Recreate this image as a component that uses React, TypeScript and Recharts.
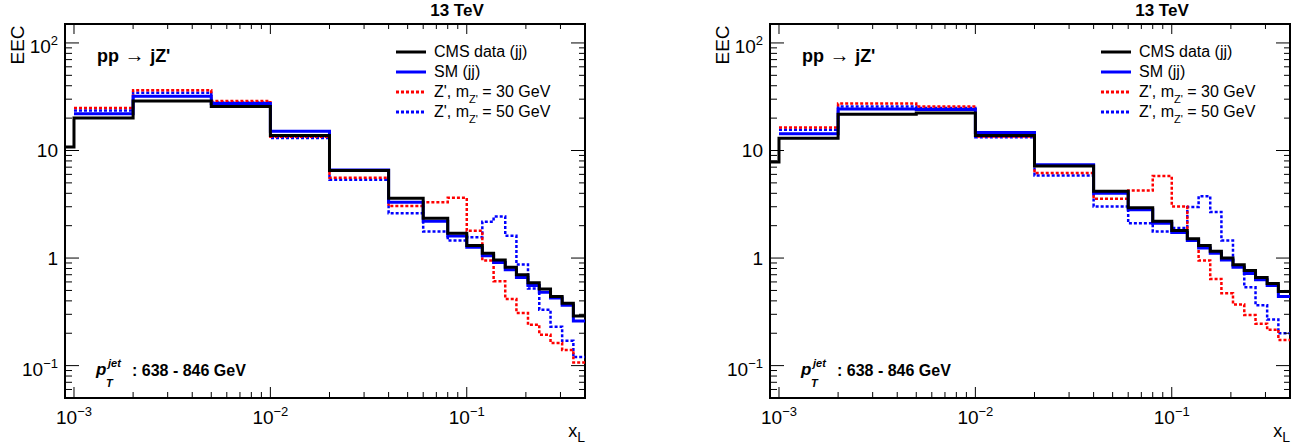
import React from "react";
import { LineChart, Line, XAxis, YAxis, Legend, ReferenceArea } from "recharts";

// bin edges in x_L (the data histogram also has an underflow bin starting at the frame edge)
const binEdges = [
  0.001, 0.002, 0.005, 0.01, 0.02, 0.04, 0.06, 0.08, 0.1, 0.12, 0.137, 0.157,
  0.179, 0.205, 0.234, 0.267, 0.306, 0.349, 0.4,
];
const underflowEdge = 0.0009;

// left panel
const leftDataUnderflow = 10.8;
const leftData = [20, 28.8, 25.7, 13.8, 6.5, 3.6, 2.35, 1.7, 1.31, 1.11, 0.96, 0.82, 0.7, 0.59, 0.516, 0.44, 0.38, 0.29];
const leftSM = [22, 31.9, 27.3, 15.1, 6.6, 3.31, 2.2, 1.6, 1.26, 1.05, 0.91, 0.78, 0.66, 0.555, 0.48, 0.426, 0.364, 0.26];
const leftZ30 = [24.8, 36.3, 28.8, 13.4, 5.58, 3.04, 3.31, 3.64, 1.79, 0.95, 0.61, 0.417, 0.309, 0.24, 0.194, 0.162, 0.14, 0.107];
const leftZ50 = [23.6, 34.5, 28, 13.1, 5.35, 2.61, 1.77, 1.46, 1.56, 2.18, 2.43, 1.61, 0.87, 0.52, 0.33, 0.23, 0.17, 0.12];

// right panel
const rightDataUnderflow = 7.8;
const rightData = [13.0, 21.7, 22.3, 13.8, 7.16, 4.19, 2.93, 2.2, 1.8, 1.51, 1.31, 1.16, 1.0, 0.865, 0.765, 0.66, 0.58, 0.49];
const rightSM = [14.3, 24.3, 24, 14.7, 7.38, 4.0, 2.81, 2.11, 1.73, 1.46, 1.24, 1.11, 0.96, 0.82, 0.72, 0.63, 0.555, 0.44];
const rightZ30 = [16.4, 27.3, 25.7, 13.5, 6.17, 3.56, 4.25, 5.78, 3.02, 1.45, 0.95, 0.64, 0.47, 0.37, 0.296, 0.245, 0.215, 0.173];
const rightZ50 = [15.6, 25.7, 24.9, 13.3, 5.87, 3.02, 2.11, 1.77, 1.9, 2.98, 3.76, 2.68, 1.46, 0.85, 0.535, 0.364, 0.268, 0.2];

// axis ticks
const xTicks = [
  0.001, 0.002, 0.003, 0.004, 0.005, 0.006, 0.007, 0.008, 0.009,
  0.01, 0.02, 0.03, 0.04, 0.05, 0.06, 0.07, 0.08, 0.09,
  0.1, 0.2, 0.3,
];
const yTicks = [
  0.06, 0.07, 0.08, 0.09,
  0.1, 0.2, 0.3, 0.4, 0.5, 0.6, 0.7, 0.8, 0.9,
  1, 2, 3, 4, 5, 6, 7, 8, 9,
  10, 20, 30, 40, 50, 60, 70, 80, 90,
  100,
];

const SERIES = [
  { key: "data", name: "CMS data (jj)", color: "#000000", width: 3, dash: undefined as string | undefined },
  { key: "sm", name: "SM (jj)", color: "#0000ff", width: 3, dash: undefined as string | undefined },
  { key: "z30", name: "Z', m_{Z'} = 30 GeV", color: "#ff0000", width: 2.5, dash: "3 2" },
  { key: "z50", name: "Z', m_{Z'} = 50 GeV", color: "#0000ff", width: 2.5, dash: "3 2" },
];

const FONT = "'Liberation Sans', Arial, Helvetica, sans-serif";
const CHART_W = 640;
const CHART_H = 447;
const PLOT_W = 520;
const PLOT_H = 374;

function buildRows(under: number, data: number[], sm: number[], z30: number[], z50: number[]) {
  const rows: any[] = [{ x: underflowEdge, data: under, sm: null, z30: null, z50: null }];
  binEdges.forEach((e, i) => {
    const j = Math.min(i, data.length - 1);
    rows.push({ x: e, data: data[j], sm: sm[j], z30: z30[j], z50: z50[j] });
  });
  return rows;
}

const isMajor = (v: number) => Math.abs(Math.log10(v) - Math.round(Math.log10(v))) < 1e-6;

const XTick = (props: any) => {
  const { x, y, payload } = props;
  const v = payload.value;
  const major = isMajor(v);
  const exp = Math.round(Math.log10(v));
  return (
    <g>
      <line x1={x} x2={x} y1={y} y2={y - (major ? 11 : 6)} stroke="#000" strokeWidth={1} />
      <line x1={x} x2={x} y1={y - PLOT_H} y2={y - PLOT_H + (major ? 10 : 5)} stroke="#000" strokeWidth={1} />
      {major && (
        <text x={x} y={y + 26} textAnchor="middle" fontSize={19} fill="#000" fontFamily={FONT}>
          10
          <tspan dy={-8} fontSize={13}>
            {"\u2212" + Math.abs(exp)}
          </tspan>
        </text>
      )}
    </g>
  );
};

const YTick = (props: any) => {
  const { x, y, payload } = props;
  const v = payload.value;
  const major = isMajor(v);
  const exp = Math.round(Math.log10(v));
  let label: React.ReactNode = null;
  if (major) {
    if (exp === 0 || exp === 1) {
      label = (
        <text x={x - 7} y={y + 6.5} textAnchor="end" fontSize={19} fill="#000" fontFamily={FONT}>
          {exp === 0 ? "1" : "10"}
        </text>
      );
    } else {
      label = (
        <text x={x - 7} y={y + 10} textAnchor="end" fontSize={19} fill="#000" fontFamily={FONT}>
          10
          <tspan dy={-8} fontSize={13}>
            {exp < 0 ? "\u2212" + Math.abs(exp) : String(exp)}
          </tspan>
        </text>
      );
    }
  }
  return (
    <g>
      <line x1={x} x2={x + (major ? 14 : 7)} y1={y} y2={y} stroke="#000" strokeWidth={1} />
      <line x1={x + PLOT_W} x2={x + PLOT_W - (major ? 14 : 6)} y1={y} y2={y} stroke="#000" strokeWidth={1} />
      {label}
    </g>
  );
};

const renderName = (name: string) => {
  const parts = name.split(/_\{(.*?)\}/);
  return parts.map((p, i) =>
    i % 2 === 1 ? (
      <span key={i} style={{ fontSize: 11, position: "relative", top: 6 }}>
        {p}
      </span>
    ) : (
      <span key={i}>{p}</span>
    )
  );
};

const renderLegend = (props: any) => {
  const order = SERIES.map((s) => s.key);
  const items = [...(props.payload || [])].sort(
    (a: any, b: any) => order.indexOf(a.dataKey) - order.indexOf(b.dataKey)
  );
  return (
    <div style={{ fontFamily: FONT, fontSize: 16, color: "#000" }}>
      {items.map((it: any) => {
        const s = SERIES.find((q) => q.key === it.dataKey)!;
        return (
          <div key={s.key} style={{ height: 20, display: "flex", alignItems: "center", whiteSpace: "nowrap" }}>
            <svg width={30} height={4} style={{ display: "block" }}>
              <line x1={0} x2={30} y1={2} y2={2} stroke={s.color} strokeWidth={3} strokeDasharray={s.dash} />
            </svg>
            <span style={{ marginLeft: 8 }}>{renderName(it.value)}</span>
          </div>
        );
      })}
    </div>
  );
};

const Panel = ({ rows, left }: { rows: any[]; left: number }) => {
  const drawOrder = [...SERIES].reverse();
  return (
    <div style={{ position: "absolute", left, top: 0, width: CHART_W, height: CHART_H }}>
      <LineChart width={CHART_W} height={CHART_H} data={rows} margin={{ top: 24, right: 55, bottom: 0, left: 0 }}>
        <XAxis
          dataKey="x"
          type="number"
          scale="log"
          domain={[underflowEdge, 0.4]}
          allowDataOverflow
          ticks={xTicks}
          interval={0}
          tick={XTick}
          tickLine={false}
          axisLine={false}
          tickSize={0}
          tickMargin={0}
          height={49}
        />
        <YAxis
          type="number"
          scale="log"
          domain={[0.05, 150]}
          allowDataOverflow
          ticks={yTicks}
          interval={0}
          tick={YTick}
          tickLine={false}
          axisLine={false}
          tickSize={0}
          tickMargin={0}
          width={65}
        />
        <ReferenceArea x1={underflowEdge} x2={0.4} y1={0.05} y2={150} fill="none" fillOpacity={0} stroke="#000" strokeWidth={2} />
        {drawOrder.map((s) => (
          <Line
            key={s.key}
            dataKey={s.key}
            name={s.name}
            type="stepAfter"
            stroke={s.color}
            strokeWidth={s.width}
            strokeDasharray={s.dash}
            dot={false}
            activeDot={false}
            connectNulls={false}
            isAnimationActive={false}
          />
        ))}
        <Legend
          layout="vertical"
          align="center"
          verticalAlign="middle"
          content={renderLegend}
          wrapperStyle={{ left: 396, top: 42, width: 220, height: 80 }}
        />
      </LineChart>
      <svg
        width={CHART_W}
        height={CHART_H}
        style={{ position: "absolute", left: 0, top: 0, pointerEvents: "none" }}
        fontFamily={FONT}
      >
        <text x={457} y={15.5} textAnchor="middle" fontSize={17} fontWeight="bold" fill="#000">
          13 TeV
        </text>
        <text transform="translate(24,45) rotate(-90)" textAnchor="middle" fontSize={19} fill="#000">
          EEC
        </text>
        <text x={97} y={62} fontSize={18} fontWeight="bold" fill="#000">
          pp
          <tspan fontSize={20} fontWeight="normal">{" \u2192 "}</tspan>
          {"jZ'"}
        </text>
        <text x={96} y={375} fontSize={17} fontWeight="bold" fontStyle="italic" fill="#000">
          p
        </text>
        <text x={108} y={367} fontSize={11} fontWeight="bold" fontStyle="italic" fill="#000">
          jet
        </text>
        <text x={106} y={387} fontSize={11} fontWeight="bold" fontStyle="italic" fill="#000">
          T
        </text>
        <text x={132} y={376} fontSize={16} fontWeight="bold" fill="#000">
          : 638 - 846 GeV
        </text>
        <text x={585} y={437} textAnchor="end" fontSize={18} fill="#000">
          x
          <tspan dy={5} fontSize={14}>
            L
          </tspan>
        </text>
      </svg>
    </div>
  );
};

const leftRows = buildRows(leftDataUnderflow, leftData, leftSM, leftZ30, leftZ50);
const rightRows = buildRows(rightDataUnderflow, rightData, rightSM, rightZ30, rightZ50);

export default function App() {
  return (
    <div
      style={{
        position: "absolute",
        left: 0,
        top: 0,
        width: 1299,
        height: 447,
        background: "#fff",
        fontFamily: FONT,
        overflow: "hidden",
      }}
    >
      <Panel rows={leftRows} left={0} />
      <Panel rows={rightRows} left={705} />
    </div>
  );
}
